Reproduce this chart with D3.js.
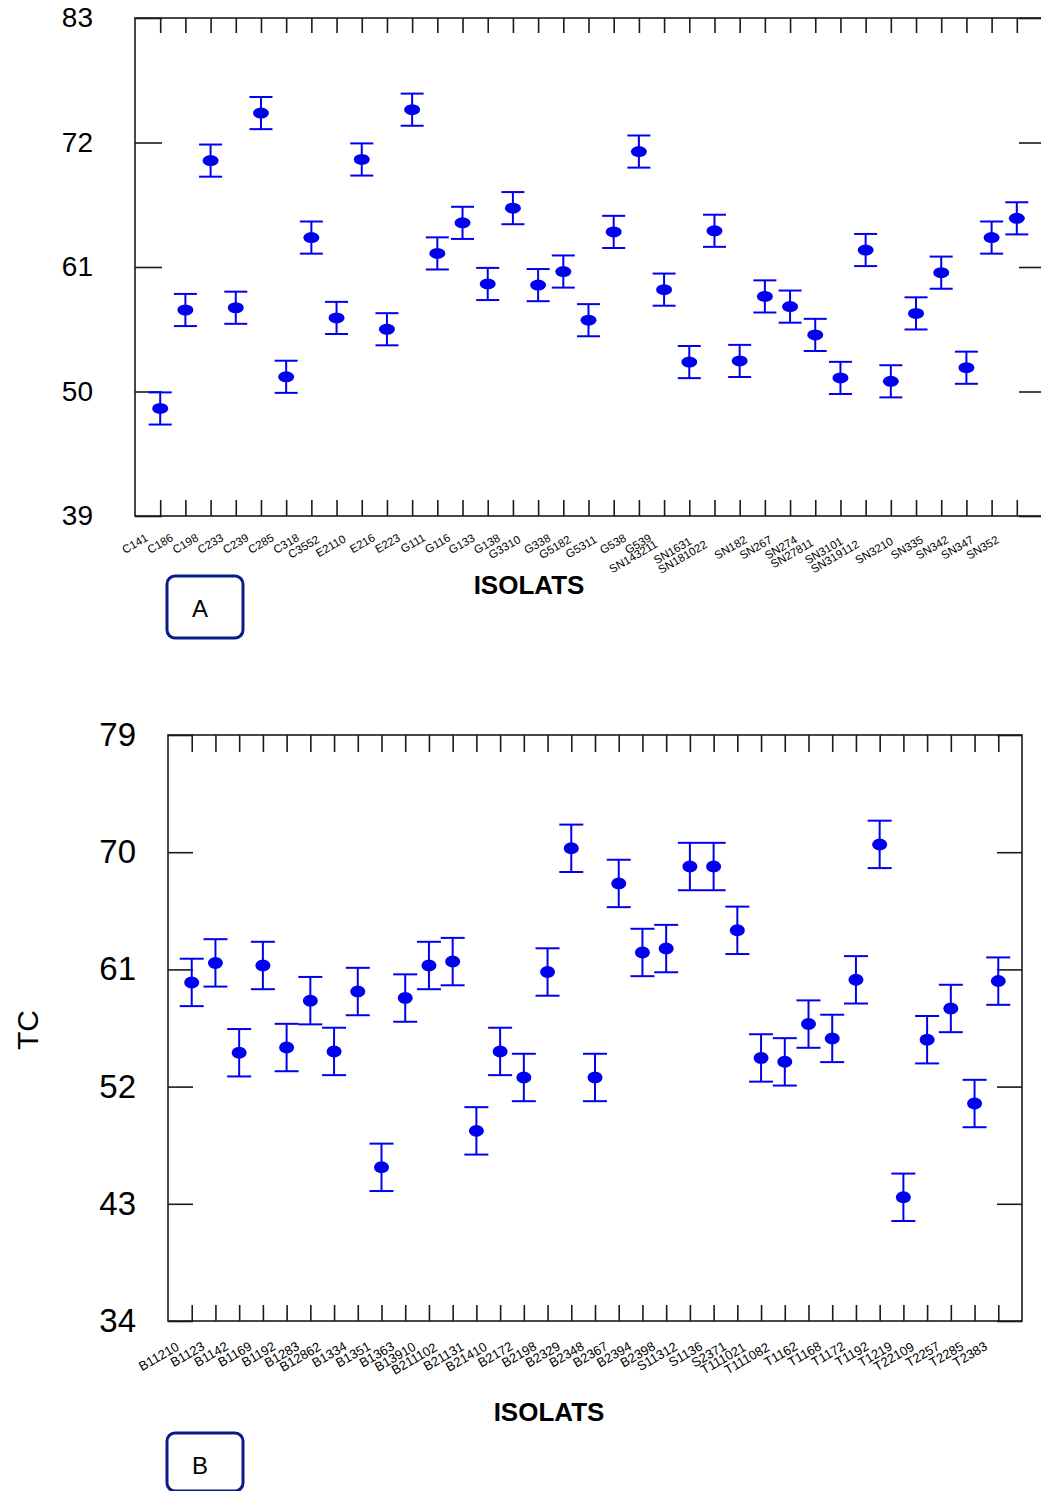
<!DOCTYPE html>
<html>
<head>
<meta charset="utf-8">
<script src="https://cdn.jsdelivr.net/npm/d3@7"></script>
<style>
  html, body { margin: 0; padding: 0; background: #fff; }
  svg { display: block; font-family: "Liberation Sans", Arial, sans-serif; }
</style>
</head>
<body>
<svg id="chart" width="1041" height="1491"></svg>
<script>
// Panel A: isolates and their mean TC values
const isolatsA = ["C141","C186","C198","C233","C239","C285","C318","C3552","E2110","E216",
  "E223","G111","G116","G133","G138","G3310","G338","G5182","G5311","G538","G539",
  "SN143211","SN1631","SN181022","SN182","SN267","SN274","SN27811","SN3101","SN319112",
  "SN3210","SN335","SN342","SN347","SN352"];
const tcA = [48.5,57.2,70.4,57.4,74.6,51.3,63.6,56.5,70.5,55.5,
  74.9,62.2,64.9,59.5,66.2,59.4,60.6,56.3,64.1,71.2,59.0,
  52.6,64.2,52.7,58.4,57.5,55.0,51.2,62.5,50.9,
  56.9,60.5,52.1,63.6,65.3];
const halfIntervalA = 1.42;
const yTicksA = [39, 50, 61, 72, 83];

// Panel B: isolates and their mean TC values
const isolatsB = ["B11210","B1123","B1142","B1169","B1192","B1283","B12862","B1334","B1351","B1363",
  "B13910","B211102","B21131","B21410","B2172","B2198","B2329","B2348","B2367","B2394",
  "B2398","S11312","S1136","S2371","T111021","T111082","T1162","T1168","T1172","T1192",
  "T1219","T22109","T2257","T2285","T2383"];
const tcB = [60.0,61.5,54.6,61.3,55.0,58.6,54.7,59.3,45.8,58.8,
  61.3,61.6,48.6,54.7,52.7,60.8,70.3,52.7,67.6,62.3,
  62.6,68.9,68.9,64.0,54.2,53.9,56.8,55.7,60.2,70.6,
  43.5,55.6,58.0,50.7,60.1];
const halfIntervalB = 1.82;
const yTicksB = [34, 43, 52, 61, 70, 79];

const svg = d3.select("#chart");
const markColor = "#0000f0";
const frameColor = "#1a1a1a";

function drawPanel(cfg) {
  const g = svg.append("g");
  const x = d3.scalePoint().domain(cfg.names).range([cfg.left, cfg.right]).padding(1);
  const y = d3.scaleLinear().domain([cfg.ticks[0], cfg.ticks[cfg.ticks.length - 1]])
    .range([cfg.bottom, cfg.top]);

  // frame
  g.append("rect")
    .attr("x", cfg.left).attr("y", cfg.top)
    .attr("width", cfg.right - cfg.left).attr("height", cfg.bottom - cfg.top)
    .attr("fill", "none").attr("stroke", frameColor).attr("stroke-width", 1.6);

  // left axis: labels outside, ticks pointing inward
  const leftAxis = d3.axisLeft(y).tickValues(cfg.ticks).tickSize(-cfg.yTickIn).tickPadding(cfg.yLabelGap);
  const la = g.append("g").attr("transform", `translate(${cfg.left},0)`).call(leftAxis);
  la.select(".domain").remove();
  la.selectAll(".tick line").attr("stroke", frameColor).attr("stroke-width", 1.6);
  la.selectAll(".tick text").attr("font-size", cfg.yFont).attr("fill", "#000")
    .attr("font-family", "Liberation Sans, Arial, sans-serif");

  // right axis: inward ticks, no labels
  const rightAxis = d3.axisRight(y).tickValues(cfg.ticks).tickSize(-cfg.yTickInR).tickFormat("");
  const ra = g.append("g").attr("transform", `translate(${cfg.right},0)`).call(rightAxis);
  ra.select(".domain").remove();
  ra.selectAll(".tick line").attr("stroke", frameColor).attr("stroke-width", 1.6);

  // top axis: inward ticks at each isolate
  const topAxis = d3.axisTop(x).tickSize(-cfg.xTickTop).tickFormat("");
  const ta = g.append("g").attr("transform", `translate(0,${cfg.top})`).call(topAxis);
  ta.select(".domain").remove();
  ta.selectAll(".tick line").attr("stroke", frameColor).attr("stroke-width", 1.6);

  // bottom axis: inward ticks, labels placed separately
  const bottomAxis = d3.axisBottom(x).tickSize(-cfg.xTickBottom).tickFormat("");
  const ba = g.append("g").attr("transform", `translate(0,${cfg.bottom})`).call(bottomAxis);
  ba.select(".domain").remove();
  ba.selectAll(".tick line").attr("stroke", frameColor).attr("stroke-width", 1.6);

  // rotated isolate labels; longer names slide further down-left
  const labels = g.append("g").selectAll("text").data(cfg.names).join("text")
    .attr("font-size", cfg.xFont)
    .attr("text-anchor", "end")
    .attr("fill", "#000")
    .text(d => d);
  labels.each(function(d) {
    const w = this.getComputedTextLength();
    const extra = Math.max(0, w - cfg.slideFrom);
    const ax = x(d) + cfg.labelDx - cfg.slideX * extra;
    const ay = cfg.bottom + cfg.labelDy + cfg.slideY * extra;
    d3.select(this).attr("transform", `translate(${ax},${ay}) rotate(-30)`);
  });

  // error bars
  const pts = cfg.names.map((n, i) => ({ name: n, v: cfg.values[i] }));
  const bars = g.append("g").selectAll("g").data(pts).join("g")
    .attr("stroke", markColor).attr("stroke-width", 2).attr("fill", "none");
  bars.append("line")
    .attr("x1", d => x(d.name)).attr("x2", d => x(d.name))
    .attr("y1", d => y(d.v - cfg.half)).attr("y2", d => y(d.v + cfg.half));
  bars.append("line")
    .attr("x1", d => x(d.name) - cfg.capHalf).attr("x2", d => x(d.name) + cfg.capHalf)
    .attr("y1", d => y(d.v + cfg.half)).attr("y2", d => y(d.v + cfg.half));
  bars.append("line")
    .attr("x1", d => x(d.name) - cfg.capHalf).attr("x2", d => x(d.name) + cfg.capHalf)
    .attr("y1", d => y(d.v - cfg.half)).attr("y2", d => y(d.v - cfg.half));

  // mean markers
  g.append("g").selectAll("ellipse").data(pts).join("ellipse")
    .attr("cx", d => x(d.name)).attr("cy", d => y(d.v))
    .attr("rx", cfg.rx).attr("ry", cfg.ry)
    .attr("fill", markColor);

  // x-axis title
  g.append("text")
    .attr("x", cfg.titleX).attr("y", cfg.titleY)
    .attr("text-anchor", "middle")
    .attr("font-weight", "bold").attr("font-size", cfg.titleFont)
    .text("ISOLATS");

  // panel letter box
  g.append("rect")
    .attr("x", cfg.boxX).attr("y", cfg.boxY).attr("width", 76).attr("height", cfg.boxH)
    .attr("rx", 8).attr("ry", 8)
    .attr("fill", "none").attr("stroke", "#0b1a8a").attr("stroke-width", 3);
  g.append("text")
    .attr("x", cfg.boxX + 33).attr("y", cfg.boxY + 41)
    .attr("text-anchor", "middle").attr("font-size", 24)
    .text(cfg.letter);
}

drawPanel({
  names: isolatsA, values: tcA, half: halfIntervalA, ticks: yTicksA,
  left: 135, right: 1042, top: 18, bottom: 516,
  yTickIn: 27, yTickInR: 23, xTickTop: 15, xTickBottom: 16, yLabelGap: 42, yFont: 28,
  xFont: 11.5, labelDx: -11, labelDy: 24, slideFrom: 27, slideX: 0.75, slideY: 0.25,
  rx: 8, ry: 5.5, capHalf: 11.5,
  titleX: 529, titleY: 594, titleFont: 26,
  boxX: 167, boxY: 576, boxH: 62, letter: "A"
});

drawPanel({
  names: isolatsB, values: tcB, half: halfIntervalB, ticks: yTicksB,
  left: 168, right: 1022, top: 735, bottom: 1321,
  yTickIn: 25, yTickInR: 25, xTickTop: 17, xTickBottom: 16, yLabelGap: 32, yFont: 33,
  xFont: 13, labelDx: -10, labelDy: 28, slideFrom: 40, slideX: 0.45, slideY: 0.1,
  rx: 7.5, ry: 6, capHalf: 12,
  titleX: 549, titleY: 1421, titleFont: 26,
  boxX: 167, boxY: 1433, boxH: 58, letter: "B"
});

// y-axis title for panel B
svg.append("text")
  .attr("transform", "translate(38,1030) rotate(-90)")
  .attr("text-anchor", "middle").attr("font-size", 30)
  .text("TC");
</script>
</body>
</html>
